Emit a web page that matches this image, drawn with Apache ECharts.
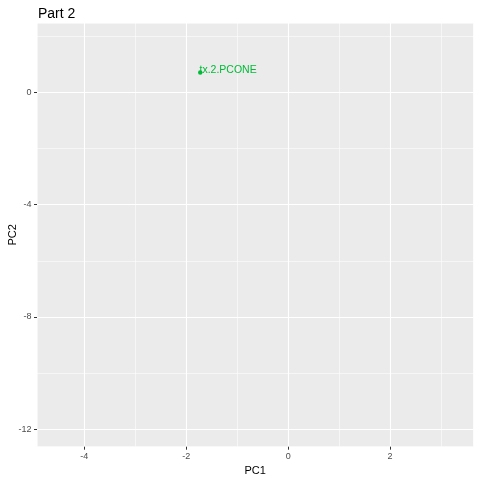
<!DOCTYPE html>
<html>
<head>
<meta charset="utf-8">
<script src="https://cdn.jsdelivr.net/npm/echarts@6/dist/echarts.min.js"></script>
<style>html,body{margin:0;padding:0;background:#fff}#c{width:480px;height:480px}</style>
</head>
<body>
<div id="c"></div>
<script>
// data
const pointLabels = ['tx.2.PCONE'];
const pc1 = [-1.725];
const pc2 = [0.71];
const xTicks = [-4, -2, 0, 2];
const yTicks = [0, -4, -8, -12];

const xMin = -4.93, xMax = 3.635;
const yMin = -12.62, yMax = 2.47;

const chart = echarts.init(document.getElementById('c'), null, {renderer: 'canvas'});
const font = 'Liberation Sans, Arial, sans-serif';

function axisCommon(min, max, step, major) {
  return {
    type: 'value', min: min, max: max,
    splitNumber: Math.round((max - min) / step),
    minInterval: step, maxInterval: step,
    axisLine: {show: false, onZero: false},
    splitLine: {show: true, lineStyle: {color: '#FFFFFF', width: major ? 1.1 : 0.55}},
    scale: true
  };
}

const option = {
  animation: false,
  backgroundColor: '#FFFFFF',
  title: {
    text: 'Part 2', left: 33, top: 2,
    textStyle: {fontFamily: font, fontSize: 14, fontWeight: 'normal', color: '#000000'}
  },
  grid: {
    left: 37, top: 23, right: 6.7, bottom: 33.3,
    containLabel: false, outerBoundsMode: 'none',
    show: true, backgroundColor: '#EBEBEB', borderWidth: 0
  },
  xAxis: [
    Object.assign(axisCommon(xMin, xMax, 1, false), {
      position: 'bottom',
      axisTick: {show: false}, axisLabel: {show: false}
    }),
    Object.assign(axisCommon(xMin, xMax, 2, true), {
      position: 'bottom',
      axisTick: {show: true, length: 3, lineStyle: {color: '#333333', width: 1}, customValues: xTicks},
      axisLabel: {show: true, customValues: xTicks, margin: 5.5, color: '#4D4D4D', fontSize: 9, fontFamily: font},
      name: 'PC1', nameLocation: 'middle', nameGap: 18.5, nameMoveOverlap: false,
      nameTextStyle: {color: '#000000', fontSize: 11, fontFamily: font}
    })
  ],
  yAxis: [
    Object.assign(axisCommon(yMin, yMax, 2, false), {
      position: 'left',
      axisTick: {show: false}, axisLabel: {show: false}
    }),
    Object.assign(axisCommon(yMin, yMax, 4, true), {
      position: 'left',
      axisTick: {show: true, length: 3, lineStyle: {color: '#333333', width: 1}, customValues: yTicks},
      axisLabel: {show: true, customValues: yTicks, margin: 5.5, color: '#4D4D4D', fontSize: 9, fontFamily: font},
      name: 'PC2', nameLocation: 'middle', nameGap: 19, nameRotate: 90, nameMoveOverlap: false,
      nameTextStyle: {color: '#000000', fontSize: 11, fontFamily: font}
    })
  ],
  series: [{
    type: 'scatter',
    xAxisIndex: 1, yAxisIndex: 1,
    symbolSize: 4.5,
    itemStyle: {color: '#00BA38', opacity: 1},
    data: pc1.map((v, i) => ({value: [v, pc2[i]], name: pointLabels[i]})),
    label: {
      show: true, position: 'right', distance: -4, offset: [1, -2],
      formatter: p => p.name,
      color: '#00BA38', fontSize: 10.5, fontFamily: font
    }
  }]
};
chart.setOption(option);
</script>
</body>
</html>
